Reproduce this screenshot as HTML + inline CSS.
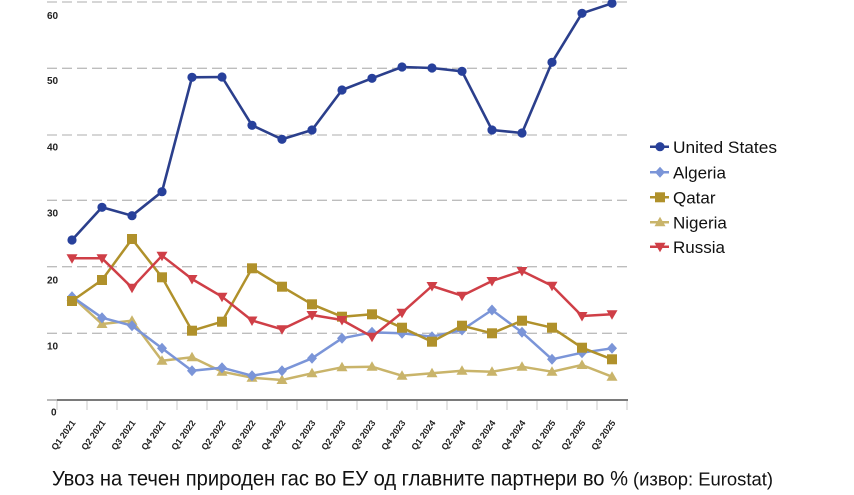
<!DOCTYPE html>
<html>
<head>
<meta charset="utf-8">
<style>
html,body{margin:0;padding:0;background:#fff;}
svg{display:block;}
</style>
</head>
<body>
<svg width="854" height="495" viewBox="0 0 854 495" xmlns="http://www.w3.org/2000/svg" font-family="Liberation Sans, Arial, sans-serif">
<rect width="854" height="495" fill="#fff"/>
<!-- gridlines -->
<g stroke="#bdbdbd" stroke-width="1.3" stroke-dasharray="10 5" fill="none">
<line x1="47" y1="2" x2="628" y2="2"/>
<line x1="47" y1="68.3" x2="628" y2="68.3"/>
<line x1="47" y1="135" x2="628" y2="135"/>
<line x1="47" y1="200.3" x2="628" y2="200.3"/>
<line x1="47" y1="266.7" x2="628" y2="266.7"/>
<line x1="47" y1="333.3" x2="628" y2="333.3"/>
</g>
<!-- y labels -->
<g font-size="10" font-weight="bold" fill="#222">
<text x="47" y="19">60</text>
<text x="47" y="84">50</text>
<text x="47" y="150.5">40</text>
<text x="47" y="216.5">30</text>
<text x="47" y="283.5">20</text>
<text x="47" y="349.5">10</text>
<text x="51" y="415.5">0</text>
</g>
<!-- axis -->
<line x1="47" y1="400" x2="57" y2="400" stroke="#bbb" stroke-width="2"/>
<line x1="57" y1="400" x2="628" y2="400" stroke="#7a7a7a" stroke-width="2"/>
<g stroke="#c8c8c8" stroke-width="1">
<line x1="57" y1="401" x2="57" y2="410"/><line x1="87" y1="401" x2="87" y2="410"/><line x1="117" y1="401" x2="117" y2="410"/><line x1="147" y1="401" x2="147" y2="410"/><line x1="177" y1="401" x2="177" y2="410"/><line x1="207" y1="401" x2="207" y2="410"/><line x1="237" y1="401" x2="237" y2="410"/><line x1="267" y1="401" x2="267" y2="410"/><line x1="297" y1="401" x2="297" y2="410"/><line x1="327" y1="401" x2="327" y2="410"/><line x1="357" y1="401" x2="357" y2="410"/><line x1="387" y1="401" x2="387" y2="410"/><line x1="417" y1="401" x2="417" y2="410"/><line x1="447" y1="401" x2="447" y2="410"/><line x1="477" y1="401" x2="477" y2="410"/><line x1="507" y1="401" x2="507" y2="410"/><line x1="537" y1="401" x2="537" y2="410"/><line x1="567" y1="401" x2="567" y2="410"/><line x1="597" y1="401" x2="597" y2="410"/><line x1="627" y1="401" x2="627" y2="410"/>
</g>
<!-- x labels -->
<g font-size="9" font-weight="bold" fill="#222" text-anchor="end">
<text transform="translate(76,423) rotate(-54)">Q1 2021</text>
<text transform="translate(106,423) rotate(-54)">Q2 2021</text>
<text transform="translate(136,423) rotate(-54)">Q3 2021</text>
<text transform="translate(166,423) rotate(-54)">Q4 2021</text>
<text transform="translate(196,423) rotate(-54)">Q1 2022</text>
<text transform="translate(226,423) rotate(-54)">Q2 2022</text>
<text transform="translate(256,423) rotate(-54)">Q3 2022</text>
<text transform="translate(286,423) rotate(-54)">Q4 2022</text>
<text transform="translate(316,423) rotate(-54)">Q1 2023</text>
<text transform="translate(346,423) rotate(-54)">Q2 2023</text>
<text transform="translate(376,423) rotate(-54)">Q3 2023</text>
<text transform="translate(406,423) rotate(-54)">Q4 2023</text>
<text transform="translate(436,423) rotate(-54)">Q1 2024</text>
<text transform="translate(466,423) rotate(-54)">Q2 2024</text>
<text transform="translate(496,423) rotate(-54)">Q3 2024</text>
<text transform="translate(526,423) rotate(-54)">Q4 2024</text>
<text transform="translate(556,423) rotate(-54)">Q1 2025</text>
<text transform="translate(586,423) rotate(-54)">Q2 2025</text>
<text transform="translate(616,423) rotate(-54)">Q3 2025</text>
</g>

<defs>
<circle id="mc" r="4.6" fill="#27409b"/>
<path id="md" d="M0,-5.5 L5,0 L0,5.5 L-5,0 Z" fill="#7b95d8"/>
<rect id="ms" x="-5" y="-5" width="10" height="10" fill="#b0912b"/>
<path id="mt" d="M0,-5.5 L5.5,4 L-5.5,4 Z" fill="#c9b46a"/>
<path id="mv" d="M-5.5,-4 L5.5,-4 L0,5.5 Z" fill="#cf3f47"/>
</defs>

<!-- Nigeria -->
<polyline fill="none" stroke="#c9b46a" stroke-width="2.5" stroke-linejoin="round" points="72,296.7 102,324 132,320.7 162,360.7 192,357.3 222,371.7 252,377.7 282,380 312,373.3 342,367.3 372,366.7 402,375.7 432,373.3 462,370.7 492,371.7 522,366.7 552,371.7 582,365 612,376.7"/>
<g>
<use href="#mt" x="72" y="296.7"/><use href="#mt" x="102" y="324"/><use href="#mt" x="132" y="320.7"/><use href="#mt" x="162" y="360.7"/><use href="#mt" x="192" y="357.3"/><use href="#mt" x="222" y="371.7"/><use href="#mt" x="252" y="377.7"/><use href="#mt" x="282" y="380"/><use href="#mt" x="312" y="373.3"/><use href="#mt" x="342" y="367.3"/><use href="#mt" x="372" y="366.7"/><use href="#mt" x="402" y="375.7"/><use href="#mt" x="432" y="373.3"/><use href="#mt" x="462" y="370.7"/><use href="#mt" x="492" y="371.7"/><use href="#mt" x="522" y="366.7"/><use href="#mt" x="552" y="371.7"/><use href="#mt" x="582" y="365"/><use href="#mt" x="612" y="376.7"/>
</g>

<!-- Algeria -->
<polyline fill="none" stroke="#7b95d8" stroke-width="2.5" stroke-linejoin="round" points="72,296.7 102,317.7 132,325.7 162,348.3 192,370.7 222,367.7 252,375.7 282,370.7 312,358.3 342,338.3 372,332.3 402,333.3 432,336.7 462,330 492,310 522,332.3 552,359.3 582,352.7 612,348.3"/>
<g>
<use href="#md" x="72" y="296.7"/><use href="#md" x="102" y="317.7"/><use href="#md" x="132" y="325.7"/><use href="#md" x="162" y="348.3"/><use href="#md" x="192" y="370.7"/><use href="#md" x="222" y="367.7"/><use href="#md" x="252" y="375.7"/><use href="#md" x="282" y="370.7"/><use href="#md" x="312" y="358.3"/><use href="#md" x="342" y="338.3"/><use href="#md" x="372" y="332.3"/><use href="#md" x="402" y="333.3"/><use href="#md" x="432" y="336.7"/><use href="#md" x="462" y="330"/><use href="#md" x="492" y="310"/><use href="#md" x="522" y="332.3"/><use href="#md" x="552" y="359.3"/><use href="#md" x="582" y="352.7"/><use href="#md" x="612" y="348.3"/>
</g>

<!-- Qatar -->
<polyline fill="none" stroke="#b0912b" stroke-width="2.5" stroke-linejoin="round" points="72,301 102,280 132,239 162,277.3 192,330.7 222,321.7 252,268.3 282,286.7 312,304.3 342,316.7 372,314.3 402,327.7 432,341.7 462,325.7 492,333.3 522,320.7 552,327.7 582,347.7 612,359.3"/>
<g>
<use href="#ms" x="72" y="301"/><use href="#ms" x="102" y="280"/><use href="#ms" x="132" y="239"/><use href="#ms" x="162" y="277.3"/><use href="#ms" x="192" y="330.7"/><use href="#ms" x="222" y="321.7"/><use href="#ms" x="252" y="268.3"/><use href="#ms" x="282" y="286.7"/><use href="#ms" x="312" y="304.3"/><use href="#ms" x="342" y="316.7"/><use href="#ms" x="372" y="314.3"/><use href="#ms" x="402" y="327.7"/><use href="#ms" x="432" y="341.7"/><use href="#ms" x="462" y="325.7"/><use href="#ms" x="492" y="333.3"/><use href="#ms" x="522" y="320.7"/><use href="#ms" x="552" y="327.7"/><use href="#ms" x="582" y="347.7"/><use href="#ms" x="612" y="359.3"/>
</g>

<!-- Russia -->
<polyline fill="none" stroke="#cf3f47" stroke-width="2.5" stroke-linejoin="round" points="72,258.3 102,258.3 132,287.7 162,255.7 192,279 222,296.7 252,320.5 282,329.3 312,315 342,320 372,336.7 402,312.7 432,286 462,295.7 492,281 522,271 552,285.7 582,316 612,314.3"/>
<g>
<use href="#mv" x="72" y="258.3"/><use href="#mv" x="102" y="258.3"/><use href="#mv" x="132" y="287.7"/><use href="#mv" x="162" y="255.7"/><use href="#mv" x="192" y="279"/><use href="#mv" x="222" y="296.7"/><use href="#mv" x="252" y="320.5"/><use href="#mv" x="282" y="329.3"/><use href="#mv" x="312" y="315"/><use href="#mv" x="342" y="320"/><use href="#mv" x="372" y="336.7"/><use href="#mv" x="402" y="312.7"/><use href="#mv" x="432" y="286"/><use href="#mv" x="462" y="295.7"/><use href="#mv" x="492" y="281"/><use href="#mv" x="522" y="271"/><use href="#mv" x="552" y="285.7"/><use href="#mv" x="582" y="316"/><use href="#mv" x="612" y="314.3"/>
</g>

<!-- United States -->
<polyline fill="none" stroke="#2b3f8c" stroke-width="2.6" stroke-linejoin="round" points="72,240 102,207.3 132,215.7 162,191.7 192,77.3 222,77 252,125.3 282,139.3 312,130 342,90 372,78.3 402,67 432,68 462,71.3 492,130 522,133 552,62.3 582,13.3 612,3.3"/>
<g>
<use href="#mc" x="72" y="240"/><use href="#mc" x="102" y="207.3"/><use href="#mc" x="132" y="215.7"/><use href="#mc" x="162" y="191.7"/><use href="#mc" x="192" y="77.3"/><use href="#mc" x="222" y="77"/><use href="#mc" x="252" y="125.3"/><use href="#mc" x="282" y="139.3"/><use href="#mc" x="312" y="130"/><use href="#mc" x="342" y="90"/><use href="#mc" x="372" y="78.3"/><use href="#mc" x="402" y="67"/><use href="#mc" x="432" y="68"/><use href="#mc" x="462" y="71.3"/><use href="#mc" x="492" y="130"/><use href="#mc" x="522" y="133"/><use href="#mc" x="552" y="62.3"/><use href="#mc" x="582" y="13.3"/><use href="#mc" x="612" y="3.3"/>
</g>

<!-- legend -->
<g stroke-width="2.5">
<line x1="650" y1="146.7" x2="669" y2="146.7" stroke="#2b3f8c"/>
<line x1="650" y1="172.3" x2="669" y2="172.3" stroke="#7b95d8"/>
<line x1="650" y1="197.3" x2="669" y2="197.3" stroke="#b0912b"/>
<line x1="650" y1="222.3" x2="669" y2="222.3" stroke="#c9b46a"/>
<line x1="650" y1="246.7" x2="669" y2="246.7" stroke="#cf3f47"/>
</g>
<use href="#mc" x="660" y="146.7"/>
<use href="#md" x="660" y="172.3"/>
<use href="#ms" x="660" y="197.3"/>
<use href="#mt" x="660" y="222.3"/>
<use href="#mv" x="660" y="246.7"/>
<g font-size="17" fill="#111">
<text x="673" y="152.8" textLength="104" lengthAdjust="spacingAndGlyphs">United States</text>
<text x="673" y="178.4">Algeria</text>
<text x="673" y="203.4">Qatar</text>
<text x="673" y="228.4">Nigeria</text>
<text x="673" y="252.8">Russia</text>
</g>

<!-- caption -->
<text x="52" y="485.5" font-size="21" fill="#111" textLength="576" lengthAdjust="spacingAndGlyphs">Увоз на течен природен гас во ЕУ од главните партнери во %</text>
<text x="633" y="485.5" font-size="18" fill="#111" textLength="140" lengthAdjust="spacingAndGlyphs">(извор: Eurostat)</text>
</svg>
</body>
</html>
